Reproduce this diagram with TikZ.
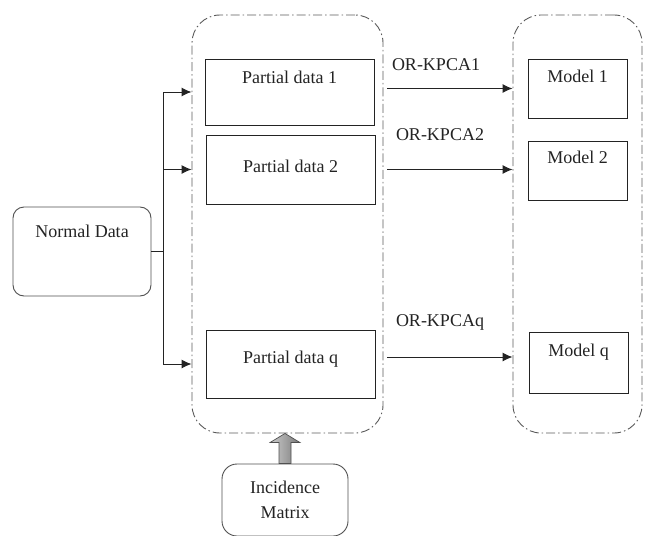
\documentclass[tikz,border=0pt]{standalone}
\usepackage{fontspec}
\setmainfont{Liberation Serif}
\usetikzlibrary{arrows.meta,positioning,calc}
\definecolor{kpedge}{RGB}{35,35,35}
\definecolor{kpgrp}{RGB}{90,90,90}
\definecolor{kpround}{RGB}{80,80,80}
\definecolor{kpink}{RGB}{35,35,35}
\tikzset{
  kpbox/.style={
    draw=kpedge, line width=0.9pt, inner sep=0pt,
    text=kpink, font=\fontsize{18}{25}\selectfont
  },
  part/.style={kpbox, minimum width=169pt},
  model/.style={kpbox, minimum width=99pt},
  src/.style={kpbox, draw=kpround, rounded corners=11pt},
  grp/.style={
    draw=kpgrp, line width=0.9pt, rounded corners=28pt,
    dash pattern=on 9pt off 3pt on 1.5pt off 3pt
  },
  arr/.style={-{Latex[length=10pt,width=9pt]}, draw=kpedge, line width=1pt},
  wire/.style={draw=kpedge, line width=1pt},
  lbl/.style={inner sep=0pt, text=kpink, font=\fontsize{18}{25}\selectfont},
  fat/.style={draw=kpround, line width=0.7pt, left color=gray!40, right color=gray!95!black}
}

\begin{document}
\begin{tikzpicture}[x=1pt,y=-1pt]
  \useasboundingbox (0,0) rectangle (647,535);

  \node[grp, minimum width=191pt, minimum height=418pt] (grpL) at (287.5,224) {};
  \node[grp, minimum width=129pt, minimum height=418pt] (grpR) at (577.5,224) {};

  \node[part, text height=24pt, text depth=42pt] (pd1) at (289.5,92) {Partial data 1};
  \node[part, text height=37pt, text depth=32pt] (pd2) at (290.5,169.5) {Partial data 2};
  \node[part, text height=33pt, text depth=35pt] (pdq) at (290.5,364) {Partial data q};

  \node[model, text height=23pt, text depth=36pt] (md1) at (577.5,88.5) {Model 1};
  \node[model, text height=22pt, text depth=37pt] (md2) at (577.5,170.5) {Model 2};
  \node[model, text height=24pt, text depth=37pt] (mdq) at (578.5,362.5) {Model q};

  \node[src, minimum width=138pt, text height=30pt, text depth=59pt] (norm) at (82,251.5) {Normal Data};
  \node[src, minimum width=126pt, minimum height=72pt, align=center, rounded corners=15pt] (inc) at (285,500)
    {Incidence\\Matrix};

  % fan out of the normal data
  \coordinate (fork) at ($(norm.east)+(12,0)$);
  \draw[wire] (norm.east) -- (fork);
  \draw[arr] (fork) |- (grpL.west |- pd1);
  \draw[arr] (fork) |- (grpL.west |- pd2);
  \draw[arr] (fork) |- (grpL.west |- pdq);

  % one OR-KPCA per partial data set
  \draw[arr] ([xshift=4pt]grpL.east |- md1) -- (grpR.west |- md1);
  \draw[arr] ([xshift=4pt]grpL.east |- pd2) -- (grpR.west |- pd2);
  \draw[arr] ([xshift=4pt,yshift=7pt]grpL.east |- pdq) -- ([yshift=7pt]grpR.west |- pdq);
  \node[lbl] (k1) at (436,65) {OR-KPCA1};
  \node[lbl] (k2) at (440,135) {OR-KPCA2};
  \node[lbl] (kq) at (440,322) {OR-KPCAq};

  % incidence matrix feeds the split
  \shadedraw[fat] ([xshift=-6pt]inc.north) -- ([xshift=-6pt,yshift=21pt]inc.north)
    -- ([xshift=-15pt,yshift=21pt]inc.north) -- (inc.north |- grpL.south)
    -- ([xshift=15pt,yshift=21pt]inc.north) -- ([xshift=6pt,yshift=21pt]inc.north)
    -- ([xshift=6pt]inc.north) -- cycle;
\end{tikzpicture}
\end{document}
